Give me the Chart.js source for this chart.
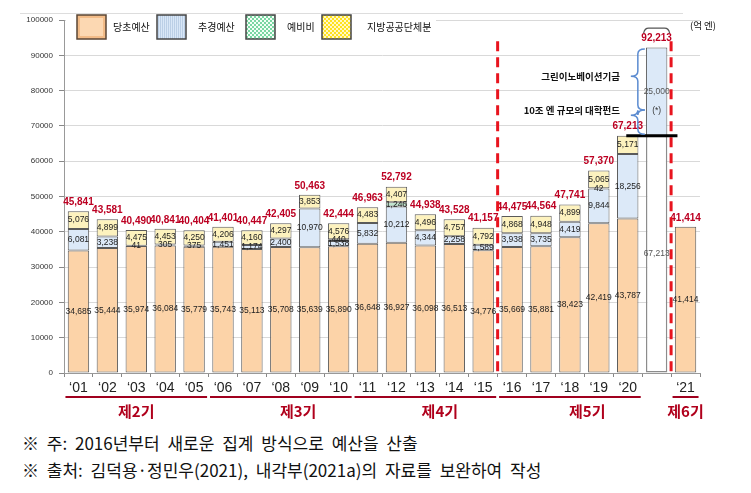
<!DOCTYPE html>
<html>
<head>
<meta charset="utf-8">
<script src="https://cdn.jsdelivr.net/npm/chart.js@4.4.1/dist/chart.umd.min.js"></script>
<style>
body { margin:0; background:#fff; width:751px; height:493px; overflow:hidden; position:relative; }
#chart { position:absolute; left:0; top:0; }
.note { position:absolute; left:22px; font-family:"Noto Sans CJK KR", sans-serif; font-size:17px; line-height:20px; color:#111; white-space:pre; word-spacing:4px; }
</style>
</head>
<body>
<canvas id="chart" width="751" height="425"></canvas>
<div class="note" style="top:433px">※ 주: 2016년부터 새로운 집계 방식으로 예산을 산출</div>
<div class="note" style="top:460px">※ 출처: 김덕용·정민우(2021), 내각부(2021a)의 자료를 보완하여 작성</div>
<script>
// 연도 (빈 칸 = 2021 추가 기금 막대)
var years = ['‘01','‘02','‘03','‘04','‘05','‘06','‘07','‘08','‘09','‘10',
  '‘11','‘12','‘13','‘14','‘15','‘16','‘17','‘18','‘19','‘20','','‘21'];

// 억 엔
var initialBudget = [34685,35444,35974,36084,35779,35743,35113,35708,35639,35890,
  36648,36927,36098,36513,34776,35669,35881,38423,42419,43787,null,41414];
var supplementary = [6081,3238,41,305,375,1451,1174,2400,10970,1538,
  5832,10212,4344,2258,1589,3938,3735,4419,9844,18256,25000,null];
var reserveFund = [null,null,null,null,null,null,null,null,null,440,
  null,1246,null,null,null,null,null,null,42,null,null,null];
var localShare = [5076,4899,4475,4453,4250,4206,4160,4297,3853,4576,
  4483,4407,4496,4757,4792,4868,4948,4899,5065,5171,null,null];
var existingBase = [null,null,null,null,null,null,null,null,null,null,
  null,null,null,null,null,null,null,null,null,null,67213,null];
var totals = [45841,43581,40490,40841,40404,41401,40447,42405,50463,42444,
  46963,52792,44938,43528,41157,44475,44564,47741,57370,67213,92213,41414];

var seriesNames = ['당초예산','추경예산','예비비','지방공공단체분'];
var periodNames = ['제2기','제3기','제4기','제5기','제6기'];
var periodFrom = [0,5,10,15,21];
var periodTo = [4,9,14,19,21];

function comma(n) { return String(n).replace(/\B(?=(\d{3})+(?!\d))/g, ','); }

function pattern(bg, fg, kind) {
  var c = document.createElement('canvas');
  c.width = 4; c.height = 4;
  var g = c.getContext('2d');
  g.fillStyle = bg; g.fillRect(0, 0, 4, 4);
  g.fillStyle = fg;
  if (kind === 'dots') { g.fillRect(0, 0, 2, 2); g.fillRect(2, 2, 2, 2); }
  if (kind === 'vline') { g.fillRect(0, 0, 1, 4); g.fillRect(2, 0, 1, 4); }
  return g.createPattern(c, 'repeat');
}

function brace(ctx, x, y1, ym, y2) {
  ctx.beginPath();
  ctx.moveTo(x + 7, y1);
  ctx.quadraticCurveTo(x, y1, x, y1 + 5);
  ctx.lineTo(x, ym - 5);
  ctx.quadraticCurveTo(x, ym, x - 7, ym);
  ctx.quadraticCurveTo(x, ym, x, ym + 5);
  ctx.lineTo(x, y2 - 5);
  ctx.quadraticCurveTo(x, y2, x + 7, y2);
  ctx.stroke();
}

var overlay = {
  id: 'overlay',
  afterDatasetsDraw: function (chart) {
    var ctx = chart.ctx, xs = chart.scales.x, ys = chart.scales.y, area = chart.chartArea;
    ctx.save();
    ctx.textAlign = 'center';
    ctx.textBaseline = 'middle';

    // 구간 값
    ctx.font = '8.5px "Liberation Sans", Arial, sans-serif';
    chart.data.datasets.forEach(function (ds, di) {
      chart.getDatasetMeta(di).data.forEach(function (bar, i) {
        var v = ds.data[i];
        if (!v) return;
        ctx.fillStyle = i === 20 ? '#555' : '#222';
        ctx.fillText(comma(v), bar.x, (bar.y + bar.base) / 2);
      });
    });
    ctx.fillStyle = '#333';
    ctx.fillText('(*)', xs.getPixelForValue(20), ys.getPixelForValue(74200));

    // 합계
    ctx.font = 'bold 10px "Liberation Sans", Arial, sans-serif';
    ctx.fillStyle = '#BC0022';
    totals.forEach(function (t, i) {
      ctx.fillText(comma(t), xs.getPixelForValue(i), ys.getPixelForValue(t) - 9);
    });

    // 빨간 점선 (기 구분)
    ctx.strokeStyle = '#E8141E';
    ctx.lineWidth = 3;
    ctx.setLineDash([10, 6]);
    [14.5, 20.5].forEach(function (p) {
      var x = xs.getPixelForValue(p);
      ctx.beginPath();
      ctx.moveTo(x, ys.getPixelForValue(94000));
      ctx.lineTo(x, area.bottom);
      ctx.stroke();
    });
    ctx.setLineDash([]);

    // 67,213 수준선
    ctx.strokeStyle = '#000';
    ctx.lineWidth = 3;
    var yl = ys.getPixelForValue(67213);
    ctx.beginPath();
    ctx.moveTo(xs.getPixelForValue(18.95), yl);
    ctx.lineTo(xs.getPixelForValue(20.72), yl);
    ctx.stroke();

    // 92,213 위 괄호
    ctx.strokeStyle = '#555';
    ctx.lineWidth = 1.2;
    var bx = xs.getPixelForValue(20), by = ys.getPixelForValue(97700);
    ctx.beginPath();
    ctx.moveTo(bx - 13, by + 5);
    ctx.quadraticCurveTo(bx - 12, by, bx - 8, by);
    ctx.lineTo(bx + 8, by);
    ctx.quadraticCurveTo(bx + 12, by, bx + 13, by + 5);
    ctx.stroke();

    // 파란 중괄호와 설명
    ctx.strokeStyle = '#5B8BD0';
    ctx.lineWidth = 1.5;
    var cx = xs.getPixelForValue(19.35);
    brace(ctx, cx, ys.getPixelForValue(91800), ys.getPixelForValue(84100), ys.getPixelForValue(74500));
    brace(ctx, cx, ys.getPixelForValue(74500), ys.getPixelForValue(73000), ys.getPixelForValue(67600));
    ctx.fillStyle = '#111';
    ctx.textAlign = 'right';
    ctx.font = 'bold 9.5px "Noto Sans CJK KR", sans-serif';
    ctx.fillText('그린이노베이션기금', 620, ys.getPixelForValue(84100));
    ctx.fillText('10조 엔 규모의 대학펀드', 620, ys.getPixelForValue(74400));
    ctx.restore();
  },
  afterDraw: function (chart) {
    var ctx = chart.ctx, xs = chart.scales.x;
    ctx.save();
    // 범례
    ctx.strokeStyle = '#ddd';
    ctx.lineWidth = 1;
    ctx.beginPath(); ctx.moveTo(20, 13.5); ctx.lineTo(683, 13.5); ctx.stroke();
    ctx.fillStyle = '#fff';
    ctx.fillRect(66, 15, 370, 25);
    var fills = [null, pattern('#D9E7F7', '#BBCFE6', 'vline'), pattern('#79D6A2', '#F2FFF6', 'dots'), pattern('#FFE21F', '#FFF8C8', 'dots')];
    var boxX = [77, 157, 246, 322];
    var textX = [113, 198, 287, 367];
    ctx.font = '10px "Noto Sans CJK KR", sans-serif';
    ctx.textBaseline = 'middle';
    ctx.textAlign = 'left';
    seriesNames.forEach(function (name, k) {
      var x = boxX[k];
      if (k === 0) {
        ctx.fillStyle = '#F3BC88'; ctx.fillRect(x, 15, 29, 24);
        ctx.fillStyle = '#FCD8B2'; ctx.fillRect(x + 3, 18, 23, 18);
      } else {
        ctx.fillStyle = fills[k]; ctx.fillRect(x, 15, 29, 24);
      }
      ctx.strokeStyle = k === 0 ? '#5A4535' : '#444';
      ctx.lineWidth = 1.5;
      ctx.strokeRect(x, 15, 29, 24);
      ctx.fillStyle = '#111';
      ctx.fillText(name, textX[k], 27);
    });
    ctx.font = '9.5px "Noto Sans CJK KR", sans-serif';
    ctx.fillText('(억 엔)', 690, 25);

    // 기 구분
    ctx.strokeStyle = '#A0001E';
    ctx.lineWidth = 2;
    ctx.fillStyle = '#B0001C';
    ctx.textAlign = 'center';
    ctx.font = 'bold 15px "Noto Sans CJK KR", sans-serif';
    var labelAt = [2, 7.6, 12.5, 17.6, 21];
    periodNames.forEach(function (p, k) {
      var x1 = xs.getPixelForValue(periodFrom[k]) - 13;
      var x2 = xs.getPixelForValue(periodTo[k]) + 13;
      ctx.beginPath(); ctx.moveTo(x1, 397); ctx.lineTo(x2, 397); ctx.stroke();
      ctx.fillText(p, xs.getPixelForValue(labelAt[k]), 411);
    });
    ctx.restore();
  }
};

var barStyle = { borderColor: '#5A5A5A', borderWidth: 1, borderSkipped: false, barPercentage: 0.74, categoryPercentage: 1.0 };

new Chart(document.getElementById('chart'), {
  type: 'bar',
  data: {
    labels: years,
    datasets: [
      Object.assign({}, barStyle, { label: 'base', data: existingBase, backgroundColor: '#FFFFFF', borderColor: '#8C8C8C', borderWidth: 1.5 }),
      Object.assign({}, barStyle, { label: seriesNames[0], data: initialBudget, backgroundColor: '#FCD3A8' }),
      Object.assign({}, barStyle, { label: seriesNames[1], data: supplementary, backgroundColor: '#DCE9F8' }),
      Object.assign({}, barStyle, { label: seriesNames[2], data: reserveFund, backgroundColor: '#BFE8CF' }),
      Object.assign({}, barStyle, { label: seriesNames[3], data: localShare, backgroundColor: '#FDF2BE' })
    ]
  },
  options: {
    responsive: false,
    animation: false,
    layout: { padding: { top: 20, right: 51, left: 0, bottom: 0 } },
    plugins: { legend: { display: false }, tooltip: { enabled: false } },
    scales: {
      x: {
        stacked: true,
        afterFit: function (s) { s.height = 52; },
        grid: { display: true, drawOnChartArea: false, offset: true, tickLength: 4, color: '#888' },
        border: { color: '#999' },
        ticks: { autoSkip: false, maxRotation: 0, padding: 3, color: '#222', font: { family: 'Liberation Sans', size: 14 } }
      },
      y: {
        stacked: true,
        min: 0, max: 100000,
        afterFit: function (s) { s.width = 64; },
        grid: { color: '#D9D9D9', tickLength: 5, tickColor: '#888' },
        border: { color: '#999' },
        ticks: { stepSize: 10000, padding: 6, color: '#333', font: { family: 'Liberation Sans', size: 8 },
          callback: function (v) { return String(v); } }
      }
    }
  },
  plugins: [overlay]
});
</script>
</body>
</html>
